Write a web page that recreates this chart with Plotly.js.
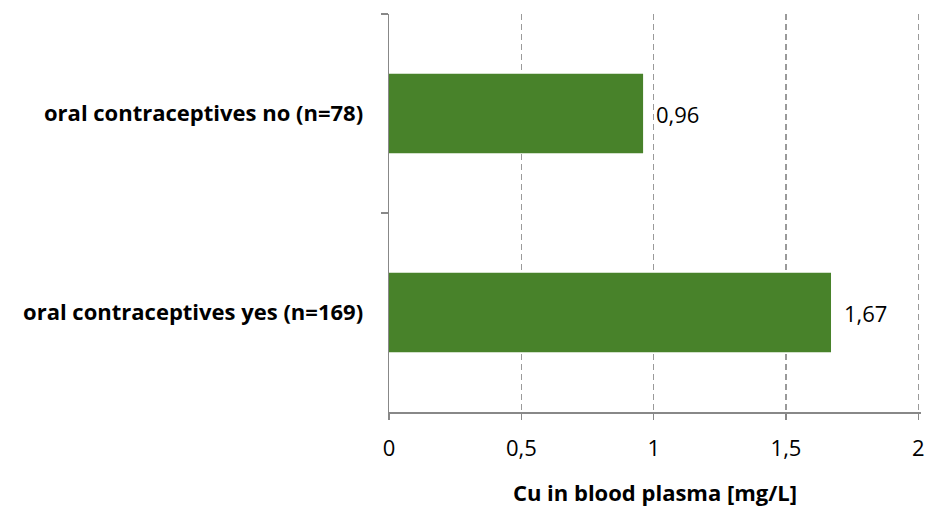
<!DOCTYPE html>
<html>
<head>
<meta charset="utf-8">
<script src="https://cdn.plot.ly/plotly-3.0.1.min.js"></script>
<style>html,body{margin:0;padding:0;background:#fff;}#chart{width:929px;height:512px;}</style>
</head>
<body>
<div id="chart"></div>
<script>
const categories = ["oral contraceptives no (n=78)", "oral contraceptives yes (n=169)"];
const values = [0.96, 1.67];
const labels = ["0,96", "1,67"];
const xTicks = [0, 0.5, 1, 1.5, 2];
const xTickText = ["0", "0,5", "1", "1,5", "2"];

const FONT = "'Open Sans', Lato, sans-serif";

const annotations = values.map((v, i) => ({
  x: v, y: categories[i], xref: "x", yref: "y",
  text: labels[i], showarrow: false,
  xanchor: "left", yanchor: "middle", xshift: 11,
  font: {family: FONT, size: 22, color: "#000"}
}));

Plotly.newPlot("chart", [{
  type: "bar",
  orientation: "h",
  y: categories,
  x: values,
  marker: {color: "#48822A"},
  hoverinfo: "none"
}], {
  width: 929, height: 512,
  margin: {l: 389, r: 8, t: 14, b: 100},
  paper_bgcolor: "#fff", plot_bgcolor: "#fff",
  bargap: 0.6,
  showlegend: false,
  font: {family: FONT, color: "#000"},
  annotations: annotations,
  xaxis: {
    range: [0, 2.01],
    tickvals: xTicks,
    ticktext: xTickText,
    tickfont: {family: FONT, size: 22, color: "#000"},
    ticks: "outside", ticklen: 6, tickcolor: "#888", tickwidth: 1.5,
    ticklabelstandoff: 10,
    showline: true, linecolor: "#888", linewidth: 1.5,
    showgrid: true, gridcolor: "#9a9a9a", griddash: "6px,4px", gridwidth: 1.5,
    zeroline: false,
    title: {text: "<b>Cu in blood plasma [mg/L]</b>", font: {family: FONT, size: 22, color: "#000"}, standoff: 24}
  },
  yaxis: {
    type: "category",
    categoryorder: "array",
    categoryarray: categories,
    autorange: "reversed",
    tickson: "boundaries",
    ticks: "outside", ticklen: 7, tickcolor: "#888", tickwidth: 1.5,
    showline: true, linecolor: "#888", linewidth: 1.5,
    showgrid: false, zeroline: false,
    tickfont: {family: FONT, size: 22, color: "#000", weight: "bold"},
    ticklabelstandoff: 20
  }
}, {displayModeBar: false, staticPlot: true});
</script>
</body>
</html>
